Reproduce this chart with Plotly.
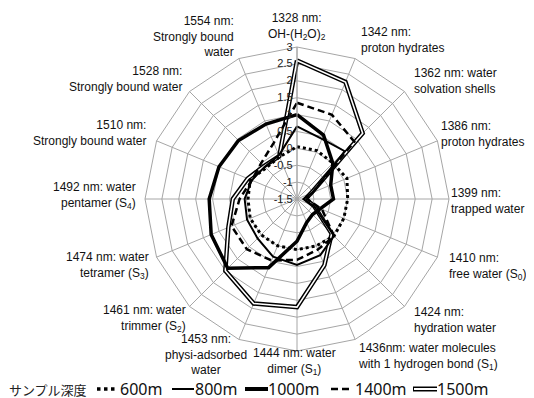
import plotly.graph_objects as go

categories = ["1328", "1342", "1362", "1386", "1399", "1410", "1424", "1436",
              "1444", "1453", "1461", "1474", "1492", "1510", "1528", "1554"]
category_labels = [
    "1328 nm:<br>OH-(H<sub>2</sub>O)<sub>2</sub>",
    "1342 nm:<br>proton hydrates",
    "1362 nm: water<br>solvation shells",
    "1386 nm:<br>proton hydrates",
    "1399 nm:<br>trapped water",
    "1410 nm:<br>free water (S<sub>0</sub>)",
    "1424 nm:<br>hydration water",
    "1436nm: water molecules<br>with 1 hydrogen bond (S<sub>1</sub>)",
    "1444 nm: water<br>dimer (S<sub>1</sub>)",
    "1453 nm:<br>physi-adsorbed<br>water",
    "1461 nm: water<br>trimmer (S<sub>2</sub>)",
    "1474 nm: water<br>tetramer (S<sub>3</sub>)",
    "1492 nm: water<br>pentamer (S<sub>4</sub>)",
    "1510 nm:<br>Strongly bound water",
    "1528 nm:<br>Strongly bound water",
    "1554 nm:<br>Strongly bound<br>water",
]
depth_600 = [0.05, 0.05, 0.0, 0.1, 0.0, 0.0, 0.05, 0.0, 0.0, 0.0, 0.0, 0.0, -0.05, 0.0, -0.2, -0.15]
depth_800 = [0.65, 0.43, 0.5, -1.0, -1.3, -0.95, 0.05, 0.3, 0.45, 0.35, 0.15, 0.1, 0.05, -0.05, -0.15, -0.1]
depth_1000 = [1.0, 0.55, 0.0, -0.42, -0.42, -0.75, -0.85, -0.75, -0.25, 0.7, 1.4, 1.25, 1.1, 1.0, 0.95, 0.9]
depth_1400 = [1.35, 1.2, 0.9, -1.0, -1.2, -0.7, 0.05, 0.12, 0.3, 0.47, 0.6, 0.6, 0.2, -0.05, 0.0, 0.3]
depth_1500 = [2.6, 2.25, 1.25, -1.05, -1.25, -0.95, -0.05, 0.62, 1.7, 1.85, 1.5, 0.7, 0.4, 0.08, -0.12, -0.13]
radial_ticks = [-1.5, -1, -0.5, 0, 0.5, 1, 1.5, 2, 2.5, 3]
radial_ticktext = ["-1.5", "-1", "-0.5", "0", "0.5", "1", "1.5", "2", "2.5", "3"]
legend_title = "サンプル深度"
series_names = ["600m", "800m", "1000m", "1400m", "1500m"]


def closed(v):
    return list(v) + [v[0]]


theta = closed(categories)
fig = go.Figure()
fig.add_trace(go.Scatterpolar(r=closed(depth_1500), theta=theta, mode="lines",
                              line=dict(color="black", width=4.5), name=series_names[4]))
fig.add_trace(go.Scatterpolar(r=closed(depth_1500), theta=theta, mode="lines",
                              line=dict(color="white", width=1.6), name=series_names[4]))
fig.add_trace(go.Scatterpolar(r=closed(depth_1400), theta=theta, mode="lines",
                              line=dict(color="black", width=2.5, dash="7px,4px"), name=series_names[3]))
fig.add_trace(go.Scatterpolar(r=closed(depth_800), theta=theta, mode="lines",
                              line=dict(color="black", width=2), name=series_names[1]))
fig.add_trace(go.Scatterpolar(r=closed(depth_1000), theta=theta, mode="lines",
                              line=dict(color="black", width=3.5), name=series_names[2]))
fig.add_trace(go.Scatterpolar(r=closed(depth_600), theta=theta, mode="lines",
                              line=dict(color="black", width=3, dash="dot"), name=series_names[0]))

# page has an 8px body margin: figure pixel = screen pixel - 8
OFF = 8
W, H = 534 - OFF, 398 - OFF
cx, cy, R = 297 - OFF, 199 - OFF, 152
fig.update_layout(
    width=W, height=H,
    margin=dict(l=0, r=0, t=0, b=0),
    paper_bgcolor="white",
    showlegend=False,
    font=dict(family="Liberation Sans, Arial, sans-serif", color="#111"),
    polar=dict(
        domain=dict(x=[(cx - R) / W, (cx + R) / W], y=[1 - (cy + R) / H, 1 - (cy - R) / H]),
        gridshape="linear",
        bgcolor="white",
        angularaxis=dict(
            direction="clockwise", rotation=90, type="category",
            categoryorder="array", categoryarray=categories,
            showticklabels=False,
            showline=True, linecolor="#a6a6a6", linewidth=1,
            gridcolor="#a6a6a6", gridwidth=1, ticks="",
        ),
        radialaxis=dict(
            range=[-1.5, 3], angle=90, side="counterclockwise",
            tickmode="array", tickvals=radial_ticks, ticktext=radial_ticktext,
            tickfont=dict(size=11, color="#222"),
            showline=True, linecolor="#a6a6a6", linewidth=1,
            gridcolor="#a6a6a6", gridwidth=1, ticks="", tickangle=90,
        ),
    ),
)


def px(x):
    return (x - OFF) / W


def py(y):
    return 1 - (y - OFF) / H


# category label placement (screen px): x, y-centre, anchor
label_pos = [
    (297, 26, "center"), (360, 40, "left"), (413, 81, "left"), (525, 134, "right"),
    (525, 201, "right"), (448, 266, "left"), (413, 320, "left"), (357, 356, "left"),
    (294, 361, "center"), (206, 354, "center"), (187, 318, "right"), (150, 265, "right"),
    (137, 195, "right"), (147, 133, "right"), (183, 79, "right"), (235, 37, "right"),
]
for i, ((lx, lyc, anc), txt) in enumerate(zip(label_pos, category_labels)):
    al = "left" if i in (3, 4) else anc
    fig.add_annotation(x=px(lx), y=py(lyc), xref="paper", yref="paper", text=txt,
                       showarrow=False, xanchor=anc, yanchor="middle", align=al,
                       font=dict(size=12, color="#111"), borderpad=0)

# manual legend
ly = py(389)
fig.add_annotation(x=px(8), y=ly, xref="paper", yref="paper", text=legend_title,
                   showarrow=False, xanchor="left", yanchor="middle",
                   font=dict(family="Noto Sans CJK JP", size=13, color="#222"), borderpad=0)
leg_font = dict(family="Noto Sans, sans-serif", size=16, color="#111")
items = [
    (97, 118, dict(color="black", width=3.5, dash="dot"), None, 119, series_names[0]),
    (172, 194, dict(color="black", width=2), None, 194, series_names[1]),
    (245, 268, dict(color="black", width=4), None, 267, series_names[2]),
    (331, 352, dict(color="black", width=2.5, dash="7px,4px"), None, 354, series_names[3]),
    (413, 437, dict(color="black", width=5), dict(color="white", width=2), 436, series_names[4]),
]
for x0, x1, ln, inner, tx, name in items:
    fig.add_shape(type="line", xref="paper", yref="paper", x0=px(x0), x1=px(x1), y0=ly, y1=ly, line=ln)
    if inner:
        fig.add_shape(type="line", xref="paper", yref="paper", x0=px(x0 + 1), x1=px(x1), y0=ly, y1=ly, line=inner)
    fig.add_annotation(x=px(tx), y=ly, xref="paper", yref="paper", text=name, showarrow=False,
                       xanchor="left", yanchor="middle", font=leg_font, borderpad=0)

fig.write_html("out.html")
